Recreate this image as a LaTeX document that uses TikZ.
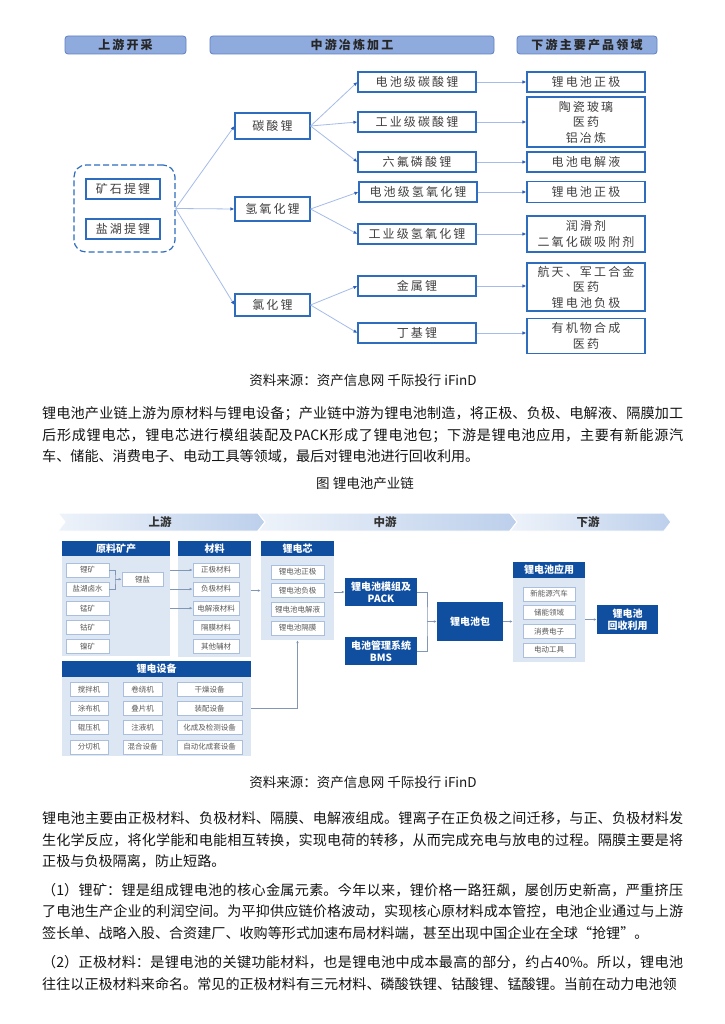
\documentclass[tikz,border=0pt]{standalone}
\usepackage{fontspec}
\setmainfont{Noto Sans CJK SC}
\newfontfamily\chartfont[LetterSpace=18]{Noto Sans CJK SC}
\usetikzlibrary{positioning,arrows.meta}
\XeTeXlinebreaklocale "zh"
\XeTeXlinebreakskip=0pt plus 1.5pt
\setlength{\parindent}{0pt}

\definecolor{hdrfill}{RGB}{143,170,220}
\definecolor{hdrline}{RGB}{96,128,196}
\definecolor{boxline}{RGB}{46,108,190}
\definecolor{flowline}{RGB}{165,188,232}
\definecolor{tipblue}{RGB}{45,95,185}
\definecolor{dtext}{RGB}{64,64,64}
\definecolor{navy}{RGB}{16,78,160}
\definecolor{pale}{RGB}{221,231,244}
\definecolor{itemline}{RGB}{170,190,222}
\definecolor{linkgray}{RGB}{130,150,182}
\definecolor{chevL}{RGB}{238,243,250}
\definecolor{chevR}{RGB}{188,207,235}

\begin{document}
\begin{tikzpicture}[x=1pt, y=-1pt,
  stagehead/.style={draw=hdrline, fill=hdrfill, rounded corners=3pt, line width=0.8pt, minimum height=18pt, inner sep=0pt, text=black!85, font=\chartfont\fontsize{12}{14}\selectfont\bfseries},
  prodbox/.style={draw=boxline, line width=1.1pt, minimum width=118pt, minimum height=20pt, inner sep=1pt, align=center, text=dtext, font=\chartfont\fontsize{12}{15.5}\selectfont},
  saltbox/.style={prodbox, minimum width=75pt, minimum height=24pt},
  minebox/.style={prodbox, minimum width=74pt},
  flow/.style={draw=flowline, line width=0.8pt, -{Latex[length=4pt,width=3.5pt,color=tipblue]}},
  chevron/.style={left color=chevL, right color=chevR, draw=white, line width=1pt},
  stagelabel/.style={inner sep=0pt, text=black!80, font=\fontsize{11.5}{13}\selectfont\bfseries},
  panel/.style={fill=pale, draw=none, inner sep=0pt},
  panelhead/.style={fill=navy, text=white, anchor=north, minimum height=15pt, inner sep=0pt, font=\fontsize{10}{12}\selectfont\bfseries},
  item/.style={draw=itemline, fill=white, line width=0.6pt, minimum height=14pt, inner sep=0pt, text=black!65, font=\fontsize{7.5}{9}\selectfont},
  navybox/.style={fill=navy, text=white, align=center, inner sep=0pt, font=\fontsize{10}{12}\selectfont\bfseries},
  link/.style={draw=linkgray, line width=0.6pt, -{Latex[length=3pt,width=2.6pt]}},
  note/.style={inner sep=0pt, text=black!90, font=\fontsize{13.5}{16}\selectfont},
  para/.style={anchor=base west, inner sep=0pt, text width=641pt, align=justify, text=black!92, font=\fontsize{14.1}{21.5}\selectfont}]

\useasboundingbox (0,0) rectangle (724,1024);
\fill[white] (0,0) rectangle (724,1024);

% ---- lithium salt chain ----
\node[stagehead, minimum width=121pt] (hUp) at (125.5,45) {上游开采};
\node[stagehead, minimum width=284pt] (hMid) at (352,45) {中游冶炼加工};
\node[stagehead, minimum width=140pt] (hDown) at (587,45) {下游主要产品领域};

\node[draw=boxline, dashed, dash pattern=on 6pt off 3pt, line width=1.2pt, rounded corners=12pt, minimum width=101pt, minimum height=87pt] (srcBox) at (124.5,208.5) {};
\node[minebox] (oreLi) at (123,189) {矿石提锂};
\node[minebox] (lakeLi) at (123,229) {盐湖提锂};

\node[saltbox, minimum height=26pt] (liCarb) at (272.5,126) {碳酸锂};
\node[saltbox] (liOH) at (272.5,209) {氢氧化锂};
\node[saltbox, minimum height=22pt] (liCl) at (272.5,305) {氯化锂};

\node[prodbox] (bCarb) at (417,82) {电池级碳酸锂};
\node[prodbox] (iCarb) at (417,122) {工业级碳酸锂};
\node[prodbox] (lpf) at (417,162) {六氟磷酸锂};
\node[prodbox] (bOH) at (418,192) {电池级氢氧化锂};
\node[prodbox] (iOH) at (417,234) {工业级氢氧化锂};
\node[prodbox] (liMetal) at (417,286) {金属锂};
\node[prodbox] (buLi) at (417,333) {丁基锂};

\node[prodbox] (cathA) at (586,82) {锂电池正极};
\node[prodbox, minimum height=50pt] (glass) at (586,122) {陶瓷玻璃\\医药\\铝冶炼};
\node[prodbox] (elyte) at (586,162) {电池电解液};
\node[prodbox, minimum height=21pt] (cathB) at (586,192) {锂电池正极};
\node[prodbox, minimum height=36pt] (lube) at (586,234) {润滑剂\\二氧化碳吸附剂};
\node[prodbox, minimum height=48pt] (aero) at (586,287) {航天、军工合金\\医药\\锂电池负极};
\node[prodbox, minimum height=35pt] (organic) at (586,336) {有机物合成\\医药};

\draw[flow] (srcBox.east) -- (liCarb.west);
\draw[flow] (srcBox.east) -- (liOH.west);
\draw[flow] (srcBox.east) -- (liCl.west);
\draw[flow] (liCarb.east) -- (bCarb.west);
\draw[flow] (liCarb.east) -- (iCarb.west);
\draw[flow] (liCarb.east) -- (lpf.west);
\draw[flow] (liOH.east) -- (bOH.west);
\draw[flow] (liOH.east) -- (iOH.west);
\draw[flow] (liCl.east) -- (liMetal.west);
\draw[flow] (liCl.east) -- (buLi.west);
\draw[flow] (bCarb.east) -- (cathA.west);
\draw[flow] (iCarb.east) -- (glass.west |- iCarb.east);
\draw[flow] (lpf.east) -- (elyte.west);
\draw[flow] (bOH.east) -- (cathB.west);
\draw[flow] (iOH.east) -- (lube.west);
\draw[flow] (liMetal.east) -- (aero.west |- liMetal.east);
\draw[flow] (buLi.east) -- (organic.west |- buLi.east);

\node[note] (srcA) at (363,380) {资料来源：资产信息网 千际投行 iFinD};

\node[para] (introText) at (42,418.5) {锂电池产业链上游为原材料与锂电设备；产业链中游为锂电池制造，将正极、负极、电解液、隔膜加工\linebreak 后形成锂电芯，锂电芯进行模组装配及PACK形成了锂电池包；下游是锂电池应用，主要有新能源汽\linebreak 车、储能、消费电子、电动工具等领域，最后对锂电池进行回收利用。};

\node[note] (figTitle) at (365,483) {图 锂电池产业链};

% ---- battery chain ----
\shadedraw[chevron] (58,513) -- (258,513) -- (265,522) -- (258,531) -- (58,531) -- (65,522) -- cycle;
\shadedraw[chevron] (258,513) -- (510,513) -- (517,522) -- (510,531) -- (258,531) -- (265,522) -- cycle;
\shadedraw[chevron] (510,513) -- (664,513) -- (671,522) -- (664,531) -- (510,531) -- (517,522) -- cycle;
\node[stagelabel] (upLbl) at (160,522) {上游};
\node[stagelabel] (midLbl) at (385,522) {中游};
\node[stagelabel] (downLbl) at (588,522) {下游};

\node[panel, minimum width=108pt, minimum height=115pt] (rawPanel) at (116,598.5) {};
\node[panelhead, minimum width=108pt] (rawHead) at (rawPanel.north) {原料矿产};
\node[item, minimum width=43pt] (liOre) at (87.5,570) {锂矿};
\node[item, minimum width=43pt, below=4.5pt of liOre] (brine) {盐湖卤水};
\node[item, minimum width=43pt, below=4.5pt of brine] (mnOre) {锰矿};
\node[item, minimum width=43pt, below=4.5pt of mnOre] (coOre) {钴矿};
\node[item, minimum width=43pt, below=4.5pt of coOre] (niOre) {镍矿};
\node[item, minimum width=41pt] (liSalt) at (142.5,579.25) {锂盐};
\coordinate (saltJoin) at (115,579.25);
\draw[link, -] (liOre.east) -| (saltJoin) |- (brine.east);
\draw[link] (saltJoin) -- (liSalt.west);

\node[panel, minimum width=73pt, minimum height=116pt] (matPanel) at (214.5,599) {};
\node[panelhead, minimum width=73pt] (matHead) at (matPanel.north) {材料};
\node[item, minimum width=46pt] (cathMat) at (216,570) {正极材料};
\node[item, minimum width=46pt, below=4.5pt of cathMat] (anodeMat) {负极材料};
\node[item, minimum width=46pt, below=4.5pt of anodeMat] (elyteMat) {电解液材料};
\node[item, minimum width=46pt, below=4.5pt of elyteMat] (sepMat) {隔膜材料};
\node[item, minimum width=46pt, below=4.5pt of sepMat] (auxMat) {其他辅材};
\draw[link] (rawPanel.east |- cathMat) -- (cathMat.west);
\draw[link] (rawPanel.east |- anodeMat) -- (anodeMat.west);
\draw[link] (rawPanel.east |- elyteMat) -- (elyteMat.west);

\node[panel, minimum width=73pt, minimum height=99pt] (cellPanel) at (297.5,590.5) {};
\node[panelhead, minimum width=73pt] (cellHead) at (cellPanel.north) {锂电芯};
\node[item, minimum width=53pt] (cathCell) at (297.5,572) {锂电池正极};
\node[item, minimum width=53pt, below=4pt of cathCell] (anodeCell) {锂电池负极};
\node[item, minimum width=53pt, below=4pt of anodeCell] (elyteCell) {锂电池电解液};
\node[item, minimum width=53pt, below=4pt of elyteCell] (sepCell) {锂电池隔膜};
\draw[link] (matPanel.east |- anodeCell) -- (cellPanel.west |- anodeCell);

\node[panel, minimum width=189pt, minimum height=95pt] (equipPanel) at (156.5,708.5) {};
\node[panelhead, minimum width=189pt, minimum height=16pt] (equipHead) at (equipPanel.north) {锂电设备};
\node[item, minimum width=38pt] (mixer) at (89,689.5) {搅拌机};
\node[item, minimum width=38pt, below=4.5pt of mixer] (coater) {涂布机};
\node[item, minimum width=38pt, below=4.5pt of coater] (roller) {辊压机};
\node[item, minimum width=38pt, below=4.5pt of roller] (slitter) {分切机};
\node[item, minimum width=39pt] (winder) at (142.5,689.5) {卷绕机};
\node[item, minimum width=39pt, below=4.5pt of winder] (stacker) {叠片机};
\node[item, minimum width=39pt, below=4.5pt of stacker] (filler) {注液机};
\node[item, minimum width=39pt, below=4.5pt of filler] (blender) {混合设备};
\node[item, minimum width=65pt] (dryer) at (209.5,689.5) {干燥设备};
\node[item, minimum width=65pt, below=4.5pt of dryer] (assembler) {装配设备};
\node[item, minimum width=65pt, below=4.5pt of assembler] (former) {化成及检测设备};
\node[item, minimum width=65pt, below=4.5pt of former] (autoLine) {自动化成套设备};
\draw[link] (equipPanel.east) -| (cellPanel.south);

\node[navybox, minimum width=72pt, minimum height=28pt] (packBox) at (381,592) {锂电池模组及\\PACK};
\node[navybox, minimum width=72pt, minimum height=28pt] (bmsBox) at (381,651) {电池管理系统\\BMS};
\draw[link] (cellPanel.east |- packBox) -- (packBox.west);
\coordinate (packJoin) at (427,621.5);
\draw[link, -] (packBox.east) -| (packJoin) |- (bmsBox.east);
\node[navybox, minimum width=66pt, minimum height=39pt] (batPack) at (470,621.5) {锂电池包};
\draw[link] (packJoin) -- (batPack.west);

\node[panel, minimum width=72pt, minimum height=100pt] (appPanel) at (549,612) {};
\node[panelhead, minimum width=72pt, minimum height=16pt] (appHead) at (appPanel.north) {锂电池应用};
\node[item, minimum width=52pt] (evCar) at (549,594) {新能源汽车};
\node[item, minimum width=52pt, below=4pt of evCar] (storage) {储能领域};
\node[item, minimum width=52pt, below=4pt of storage] (consumer) {消费电子};
\node[item, minimum width=52pt, below=4pt of consumer] (tools) {电动工具};
\draw[link] (batPack.east) -- (appPanel.west |- batPack);
\node[navybox, minimum width=61pt, minimum height=29pt] (recyBox) at (627.5,619.5) {锂电池\\回收利用};
\draw[link] (appPanel.east |- recyBox) -- (recyBox.west);

\node[note] (srcB) at (363,782) {资料来源：资产信息网 千际投行 iFinD};

\node[para] (cellText) at (42,823.5) {锂电池主要由正极材料、负极材料、隔膜、电解液组成。锂离子在正负极之间迁移，与正、负极材料发\linebreak 生化学反应，将化学能和电能相互转换，实现电荷的转移，从而完成充电与放电的过程。隔膜主要是将\linebreak 正极与负极隔离，防止短路。};

\node[para] (oreText) at (42,895) {（1）锂矿：锂是组成锂电池的核心金属元素。今年以来，锂价格一路狂飙，屡创历史新高，严重挤压\linebreak 了电池生产企业的利润空间。为平抑供应链价格波动，实现核心原材料成本管控，电池企业通过与上游\linebreak 签长单、战略入股、合资建厂、收购等形式加速布局材料端，甚至出现中国企业在全球“抢锂”。};

\node[para] (cathText) at (42,967.5) {（2）正极材料：是锂电池的关键功能材料，也是锂电池中成本最高的部分，约占40\%。所以，锂电池\linebreak 往往以正极材料来命名。常见的正极材料有三元材料、磷酸铁锂、钴酸锂、锰酸锂。当前在动力电池领};
\end{tikzpicture}
\end{document}
